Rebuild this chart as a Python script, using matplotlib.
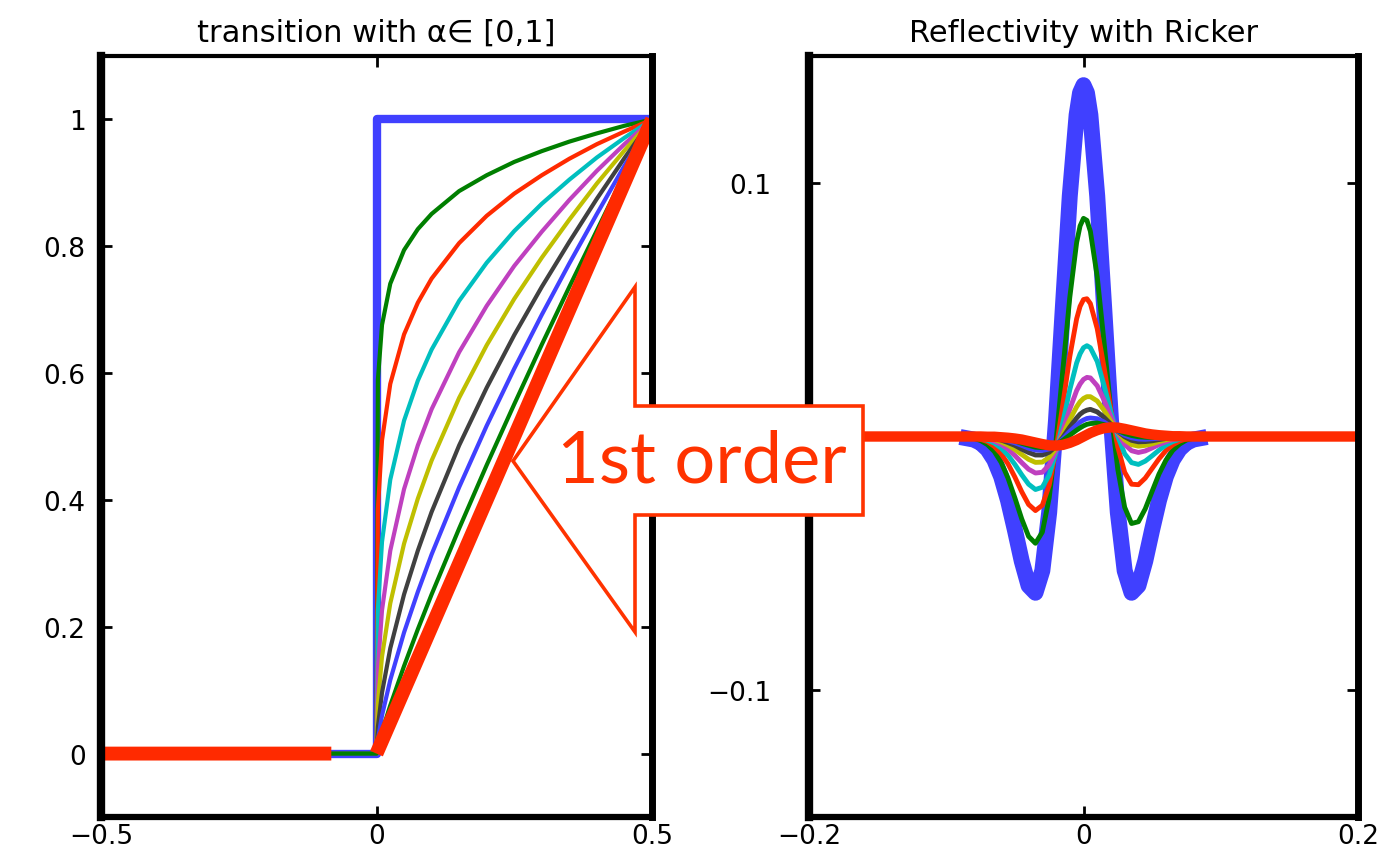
import matplotlib
matplotlib.use('Agg')
import matplotlib.pyplot as plt
from matplotlib.patches import Polygon
import numpy as np

W, H = 1397, 853

# ---- left panel: transition curves ----
x_left = [-0.5, 0, 0.0025, 0.01, 0.025, 0.05, 0.075, 0.1, 0.15, 0.2, 0.25, 0.3, 0.35, 0.4, 0.45, 0.5]
step_x = [-0.5, 0, 0, 0.5]
step_y = [0, 0, 1, 1]
ramp_x = [-0.5, -0.082, np.nan, 0, 0.5]
ramp_y = [0, 0, np.nan, 0, 1]
trans_green = [0, 0, 0.589, 0.676, 0.741, 0.794, 0.827, 0.851, 0.887, 0.912, 0.933, 0.950, 0.965, 0.978, 0.990, 1]
trans_red = [0, 0, 0.385, 0.494, 0.583, 0.661, 0.711, 0.749, 0.805, 0.848, 0.883, 0.912, 0.938, 0.961, 0.981, 1]
trans_cyan = [0, 0, 0.227, 0.334, 0.432, 0.525, 0.588, 0.637, 0.714, 0.774, 0.824, 0.867, 0.905, 0.940, 0.971, 1]
trans_magenta = [0, 0, 0.134, 0.226, 0.320, 0.417, 0.486, 0.543, 0.633, 0.706, 0.769, 0.823, 0.873, 0.919, 0.961, 1]
trans_yellow = [0, 0, 0.079, 0.153, 0.237, 0.331, 0.402, 0.462, 0.561, 0.644, 0.717, 0.782, 0.842, 0.899, 0.951, 1]
trans_gray = [0, 0, 0.042, 0.096, 0.166, 0.251, 0.320, 0.381, 0.486, 0.577, 0.660, 0.736, 0.807, 0.875, 0.939, 1]
trans_blue = [0, 0, 0.022, 0.060, 0.116, 0.191, 0.255, 0.314, 0.420, 0.517, 0.607, 0.692, 0.773, 0.851, 0.927, 1]
trans_green2 = [0, 0, 0.011, 0.035, 0.076, 0.138, 0.196, 0.251, 0.355, 0.455, 0.551, 0.645, 0.736, 0.825, 0.914, 1]

# ---- right panel: reflectivity with Ricker ----
x_right = [-0.2, -0.1, -0.09, -0.08, -0.075, -0.07, -0.065, -0.06, -0.055, -0.05, -0.045, -0.04,
           -0.035, -0.03, -0.025, -0.02, -0.015, -0.01, -0.005, -0.0025, 0, 0.0025, 0.005, 0.01, 0.015, 0.02,
           0.025, 0.03, 0.035, 0.04, 0.045, 0.05, 0.055, 0.06, 0.065, 0.07, 0.075, 0.08, 0.09, 0.1, 0.2]
refl_blue = [np.nan, np.nan, -0.0002, -0.0012, -0.0025, -0.0050, -0.0092, -0.0158, -0.0252, -0.0368, -0.0491, -0.0588,
             -0.0616, -0.0529, -0.0299, 0.0066, 0.0512, 0.0948, 0.1268, 0.1355, 0.1385, 0.1355, 0.1268, 0.0948, 0.0512, 0.0066,
             -0.0299, -0.0529, -0.0616, -0.0588, -0.0491, -0.0368, -0.0252, -0.0158, -0.0092, -0.0050, -0.0025, -0.0012, -0.0002, np.nan, np.nan]
refl_green = [0, 0, -0.0001, -0.0007, -0.0016, -0.0032, -0.0059, -0.0102, -0.0164, -0.0242, -0.0325, -0.0394,
              -0.0421, -0.0377, -0.0242, -0.0017, 0.0265, 0.0548, 0.0765, 0.0830, 0.0860, 0.0852, 0.0809, 0.0630, 0.0371, 0.0099,
              -0.0130, -0.0279, -0.0343, -0.0336, -0.0285, -0.0216, -0.0148, -0.0094, -0.0055, -0.0030, -0.0014, -0.0007, -0.0001, 0, 0]
refl_red = [0, 0, -0.0001, -0.0005, -0.0011, -0.0020, -0.0039, -0.0068, -0.0108, -0.0160, -0.0218, -0.0268,
            -0.0292, -0.0271, -0.0192, -0.0052, 0.0129, 0.0315, 0.0464, 0.0513, 0.0540, 0.0543, 0.0524, 0.0425, 0.0271, 0.0104,
            -0.0042, -0.0141, -0.0188, -0.0190, -0.0164, -0.0126, -0.0088, -0.0056, -0.0033, -0.0018, -0.0009, -0.0005, -0.0001, 0, 0]
refl_cyan = [0, 0, -0.0001, -0.0003, -0.0007, -0.0015, -0.0026, -0.0046, -0.0074, -0.0110, -0.0151, -0.0188,
             -0.0209, -0.0200, -0.0152, -0.0062, 0.0057, 0.0184, 0.0290, 0.0326, 0.0350, 0.0358, 0.0350, 0.0296, 0.0201, 0.0096,
             0.0000, -0.0068, -0.0103, -0.0110, -0.0097, -0.0076, -0.0054, -0.0034, -0.0020, -0.0011, -0.0005, -0.0003, -0.0001, 0, 0]
refl_magenta = [0, 0, 0, -0.0002, -0.0005, -0.0009, -0.0018, -0.0031, -0.0050, -0.0075, -0.0103, -0.0129,
                -0.0144, -0.0141, -0.0112, -0.0055, 0.0023, 0.0108, 0.0181, 0.0207, 0.0225, 0.0233, 0.0231, 0.0200, 0.0143, 0.0077,
                0.0014, -0.0031, -0.0056, -0.0063, -0.0057, -0.0045, -0.0032, -0.0021, -0.0012, -0.0007, -0.0003, -0.0002, 0, 0, 0]
refl_yellow = [0, 0, 0, -0.0001, -0.0003, -0.0006, -0.0012, -0.0021, -0.0034, -0.0051, -0.0071, -0.0090,
               -0.0102, -0.0101, -0.0082, -0.0045, 0.0007, 0.0066, 0.0117, 0.0137, 0.0150, 0.0157, 0.0157, 0.0140, 0.0103, 0.0059,
               0.0018, -0.0013, -0.0032, -0.0038, -0.0035, -0.0029, -0.0020, -0.0013, -0.0008, -0.0004, -0.0003, -0.0001, 0, 0, 0]
refl_gray = [0, 0, 0, -0.0001, -0.0002, -0.0005, -0.0009, -0.0014, -0.0024, -0.0035, -0.0050, -0.0063,
             -0.0073, -0.0073, -0.0062, -0.0038, -0.0003, 0.0037, 0.0073, 0.0088, 0.0098, 0.0104, 0.0107, 0.0097, 0.0075, 0.0048,
             0.0020, -0.0001, -0.0015, -0.0021, -0.0020, -0.0017, -0.0012, -0.0008, -0.0005, -0.0003, -0.0002, -0.0001, 0, 0, 0]
refl_blue2 = [0, 0, 0, -0.0001, -0.0001, -0.0003, -0.0005, -0.0010, -0.0017, -0.0025, -0.0035, -0.0046,
              -0.0053, -0.0055, -0.0049, -0.0033, -0.0009, 0.0020, 0.0045, 0.0057, 0.0065, 0.0071, 0.0073, 0.0070, 0.0057, 0.0039,
              0.0021, 0.0005, -0.0005, -0.0010, -0.0011, -0.0009, -0.0007, -0.0004, -0.0003, -0.0001, -0.0001, -0.0001, 0, 0, 0]
refl_green2 = [0, 0, 0, 0, -0.0001, -0.0003, -0.0004, -0.0008, -0.0012, -0.0018, -0.0027, -0.0035,
               -0.0042, -0.0044, -0.0042, -0.0032, -0.0015, 0.0005, 0.0025, 0.0034, 0.0042, 0.0048, 0.0051, 0.0053, 0.0047, 0.0036,
               0.0024, 0.0012, 0.0004, -0.0001, -0.0003, -0.0004, -0.0004, -0.0002, -0.0002, -0.0001, -0.0001, 0, 0, 0, 0]
refl_red2 = [0, 0, 0, 0, 0, -0.0001, -0.0001, -0.0003, -0.0005, -0.0008, -0.0012, -0.0018,
             -0.0024, -0.0030, -0.0035, -0.0036, -0.0033, -0.0025, -0.0014, -0.0007, 0, 0.0007, 0.0014, 0.0025, 0.0033, 0.0036,
             0.0035, 0.0030, 0.0024, 0.0018, 0.0012, 0.0008, 0.0005, 0.0003, 0.0001, 0.0001, 0, 0, 0, 0, 0]

# matlab-ish colour order
c_blue, c_green, c_red = '#4040ff', '#007f00', '#ff2a00'
c_cyan, c_magenta, c_yellow, c_gray = '#00bfbf', '#bf40bf', '#bfbf00', '#404040'

thin_left = [(trans_green, c_green), (trans_red, c_red), (trans_cyan, c_cyan),
             (trans_magenta, c_magenta), (trans_yellow, c_yellow), (trans_gray, c_gray),
             (trans_blue, c_blue), (trans_green2, c_green)]
thin_right = [(refl_green, c_green), (refl_red, c_red), (refl_cyan, c_cyan),
              (refl_magenta, c_magenta), (refl_yellow, c_yellow), (refl_gray, c_gray),
              (refl_blue2, c_blue), (refl_green2, c_green)]

plt.rcParams['font.family'] = ['DejaVu Sans']

fig = plt.figure(figsize=(W / 100, H / 100), dpi=100)
ax1 = fig.add_axes([101 / W, 1 - 818 / H, (652 - 101) / W, (818 - 57) / H])
ax2 = fig.add_axes([809 / W, 1 - 818 / H, (1358 - 809) / W, (818 - 57) / H])

ax1.plot(step_x, step_y, color=c_blue, lw=6)
for y, c in thin_left:
    ax1.plot(x_left, y, color=c, lw=3)
ax1.plot(ramp_x, ramp_y, color=c_red, lw=10, solid_capstyle='butt')
ax1.set_xlim(-0.5, 0.5)
ax1.set_ylim(-0.1, 1.1)
ax1.set_xticks([-0.5, 0, 0.5])
ax1.set_xticklabels(['\u22120.5', '0', '0.5'])
ax1.set_yticks([0, 0.2, 0.4, 0.6, 0.8, 1])
ax1.set_yticklabels(['0', '0.2', '0.4', '0.6', '0.8', '1'])
ax1.set_title('transition with \u03b1\u2208 [0,1]', fontsize=22, pad=11)

ax2.plot(x_right, refl_blue, color=c_blue, lw=11.5, solid_capstyle='butt')
for y, c in thin_right:
    ax2.plot(x_right, y, color=c, lw=3.5)
ax2.plot(x_right, refl_red2, color=c_red, lw=7.5)
ax2.set_xlim(-0.2, 0.2)
ax2.set_ylim(-0.15, 0.15)
ax2.set_xticks([-0.2, 0, 0.2])
ax2.set_xticklabels(['\u22120.2', '0', '0.2'])
# the 0 label sits behind the arrow in the original, so it is left blank
ax2.set_yticks([-0.1, 0, 0.1])
ax2.set_yticklabels(['\u22120.1', '', '0.1'])
ax2.set_title('Reflectivity with Ricker', fontsize=22, pad=11)

for ax in (ax1, ax2):
    ax.tick_params(direction='in', length=8, width=2, labelsize=19,
                   top=True, right=True)
    ax.tick_params(axis='x', pad=4)
    ax.spines['left'].set_linewidth(6)
    ax.spines['right'].set_linewidth(5)
    ax.spines['bottom'].set_linewidth(4.5)
    ax.spines['top'].set_linewidth(3)
ax1.tick_params(axis='y', pad=11)
ax2.tick_params(axis='y', pad=27)

# big "1st order" arrow pointing at the linear transition
arrow_px = [(513, 462), (635, 288), (635, 407), (863, 407), (863, 516), (635, 516), (635, 633)]
arrow = Polygon([(x / W, 1 - y / H) for x, y in arrow_px], closed=True,
                transform=fig.transFigure, facecolor='white', edgecolor='#ff3300',
                lw=2.6, joinstyle='miter', zorder=10)
fig.add_artist(arrow)
fig.text(702 / W, 1 - 462 / H, '1st order', ha='center', va='center',
         fontsize=52, color='#ff3300', family='Lato', zorder=11)

fig.savefig('out.png', dpi=100)
